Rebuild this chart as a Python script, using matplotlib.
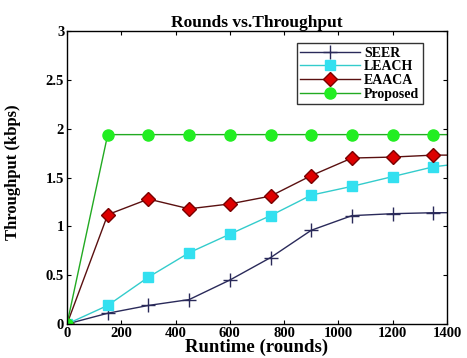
import numpy as np
import matplotlib.pyplot as plt

rounds = [0, 150, 300, 450, 600, 750, 900, 1050, 1200, 1350, 1500]
seer = [0, 0.11, 0.19, 0.25, 0.45, 0.68, 0.96, 1.11, 1.13, 1.14, 1.14]
leach = [0, 0.19, 0.48, 0.73, 0.92, 1.11, 1.32, 1.41, 1.51, 1.61, 1.66]
eaaca = [0, 1.12, 1.28, 1.18, 1.23, 1.31, 1.52, 1.70, 1.71, 1.73, 1.73]
proposed = [0, 1.94, 1.94, 1.94, 1.94, 1.94, 1.94, 1.94, 1.94, 1.94, 1.94]

xticks = [0, 200, 400, 600, 800, 1000, 1200, 1400]
yticks = [0, 0.5, 1, 1.5, 2, 2.5, 3]
ytick_labels = ['0', '0.5', '1', '1.5', '2', '2.5', '3']

plt.rcParams['font.family'] = ['Liberation Serif', 'DejaVu Serif']
plt.rcParams['font.weight'] = 'bold'

fig = plt.figure(figsize=(4.67, 3.58), dpi=100)
ax = fig.add_axes([0.1435, 0.095, 0.8135, 0.818])

mk = list(range(10))
ax.plot(rounds, seer, color='#2a2a5a', marker='+', markersize=10, markeredgewidth=1.0,
        linewidth=1.0, markevery=mk, label='SEER')
ax.plot(rounds, leach, color='#33cccc', marker='s', markersize=6.5, markerfacecolor='#33e0f0',
        markeredgecolor='#33e0f0', linewidth=1.0, markevery=mk, label='LEACH')
ax.plot(rounds, eaaca, color='#5a1010', marker='D', markersize=7, markerfacecolor='#dd0000',
        markeredgecolor='#7a0000', linewidth=1.0, markevery=mk, label='EAACA')
ax.plot(rounds, proposed, color='#22aa22', marker='o', markersize=8, markerfacecolor='#22ee22',
        markeredgecolor='#22ee22', linewidth=1.0, markevery=mk, label='Proposed')

ax.set_xlim(0, 1400)
ax.set_ylim(0, 3)
ax.set_xticks(xticks)
ax.set_yticks(yticks)
ax.set_yticklabels(ytick_labels)
ax.tick_params(direction='in', top=True, right=True, labelsize=10.5, length=3, pad=2)
for s in ax.spines.values():
    s.set_linewidth(1.0)

ax.set_title('Rounds vs.Throughput', fontsize=12.5, fontweight='bold', pad=3)
ax.set_xlabel('Runtime (rounds)', fontsize=13.5, fontweight='bold', labelpad=-1)
ax.set_ylabel('Throughput (kbps)', fontsize=12, fontweight='bold')
ax.yaxis.set_label_coords(-0.12, 0.52)

leg = ax.legend(loc='upper right', bbox_to_anchor=(0.937, 0.959), fontsize=10,
                frameon=True, fancybox=False, borderpad=0.25, labelspacing=0.05,
                handlelength=4.3, handletextpad=0.3, borderaxespad=0)
leg.get_frame().set_edgecolor('black')
leg.get_frame().set_linewidth(1.0)

fig.savefig('out.png', dpi=100)
